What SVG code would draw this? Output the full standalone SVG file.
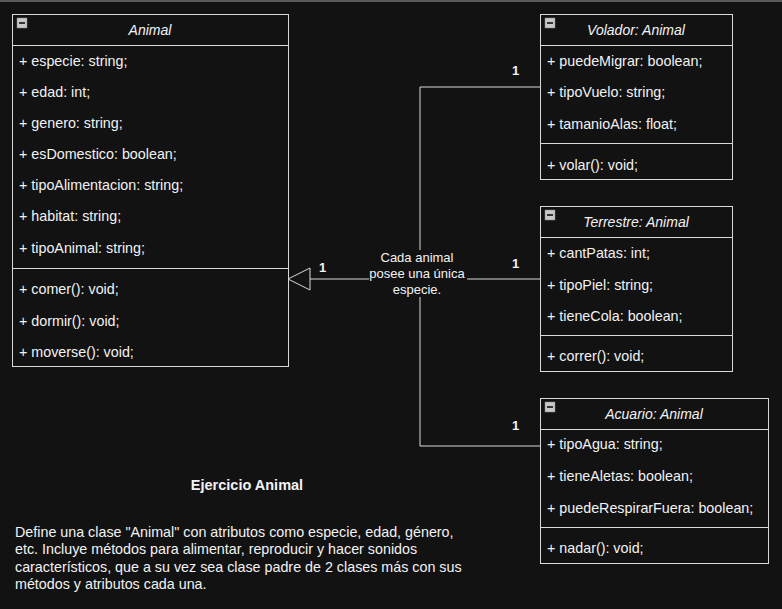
<svg xmlns="http://www.w3.org/2000/svg" width="782" height="609" viewBox="0 0 782 609">
<style>
.box{fill:#121212;stroke:#d9d9d9;stroke-width:1}
.sep{stroke:#d9d9d9;stroke-width:1}
.t{font-family:"Liberation Sans",Arial,sans-serif;font-size:14.3px;fill:#f2f2f2}
.h{font-family:"Liberation Sans",Arial,sans-serif;font-size:14px;fill:#f2f2f2;font-style:italic;text-anchor:middle}
.b{font-family:"Liberation Sans",Arial,sans-serif;font-size:13px;fill:#f2f2f2;font-weight:bold}
.c{font-family:"Liberation Sans",Arial,sans-serif;font-size:13px;fill:#f2f2f2;text-anchor:middle}
.ln{fill:none;stroke:#d9d9d9;stroke-width:1}
</style>
<defs>
<g id="minus">
<rect x="0" y="0" width="10" height="10" fill="#c8c8c8" stroke="#888" stroke-width="0.5"/>
<rect x="2" y="4" width="6" height="2" fill="#333"/>
</g>
</defs>
<rect x="0" y="0" width="782" height="609" fill="#121212"/>
<rect x="0" y="0" width="782" height="2" fill="#5a5a5a"/>

<g id="connectors">
<polyline class="ln" points="540,87 420,87 420,250"/>
<polyline class="ln" points="540,446 420,446 420,297"/>
<line class="ln" x1="540" y1="279" x2="467" y2="279"/>
<line class="ln" x1="369" y1="279" x2="310" y2="279"/>
<polygon points="288,279 310,268 310,290" fill="#121212" stroke="#d9d9d9" stroke-width="1"/>
<text class="c" x="417" y="262">Cada animal</text>
<text class="c" x="417" y="278">posee una única</text>
<text class="c" x="417" y="294">especie.</text>
<text class="b" x="512" y="75">1</text>
<text class="b" x="319" y="272">1</text>
<text class="b" x="512" y="268">1</text>
<text class="b" x="512" y="430">1</text>
</g>

<g id="animal">
<rect class="box" x="12.5" y="14.5" width="276" height="352"/>
<line class="sep" x1="12.5" y1="45.5" x2="288.5" y2="45.5"/>
<line class="sep" x1="12.5" y1="268.5" x2="288.5" y2="268.5"/>
<use href="#minus" x="17" y="18"/>
<text class="h" x="150" y="35">Animal</text>
<text class="t" x="19" y="66">+ especie: string;</text>
<text class="t" x="19" y="97">+ edad: int;</text>
<text class="t" x="19" y="128">+ genero: string;</text>
<text class="t" x="19" y="159">+ esDomestico: boolean;</text>
<text class="t" x="19" y="190">+ tipoAlimentacion: string;</text>
<text class="t" x="19" y="221">+ habitat: string;</text>
<text class="t" x="19" y="253">+ tipoAnimal: string;</text>
<text class="t" x="19" y="294">+ comer(): void;</text>
<text class="t" x="19" y="326">+ dormir(): void;</text>
<text class="t" x="19" y="357">+ moverse(): void;</text>
</g>

<g id="volador">
<rect class="box" x="540.5" y="14.5" width="192" height="165"/>
<line class="sep" x1="540.5" y1="45.5" x2="732.5" y2="45.5"/>
<line class="sep" x1="540.5" y1="143.5" x2="732.5" y2="143.5"/>
<use href="#minus" x="545" y="18"/>
<text class="h" x="636" y="35">Volador: Animal</text>
<text class="t" x="547" y="66">+ puedeMigrar: boolean;</text>
<text class="t" x="547" y="97">+ tipoVuelo: string;</text>
<text class="t" x="547" y="129">+ tamanioAlas: float;</text>
<text class="t" x="547" y="170">+ volar(): void;</text>
</g>

<g id="terrestre">
<rect class="box" x="540.5" y="206.5" width="192" height="165"/>
<line class="sep" x1="540.5" y1="237.5" x2="732.5" y2="237.5"/>
<line class="sep" x1="540.5" y1="335.5" x2="732.5" y2="335.5"/>
<use href="#minus" x="545" y="210"/>
<text class="h" x="636" y="227">Terrestre: Animal</text>
<text class="t" x="547" y="258">+ cantPatas: int;</text>
<text class="t" x="547" y="290">+ tipoPiel: string;</text>
<text class="t" x="547" y="321">+ tieneCola: boolean;</text>
<text class="t" x="547" y="361">+ correr(): void;</text>
</g>

<g id="acuario">
<rect class="box" x="540.5" y="398.5" width="228" height="165"/>
<line class="sep" x1="540.5" y1="429.5" x2="768.5" y2="429.5"/>
<line class="sep" x1="540.5" y1="527.5" x2="768.5" y2="527.5"/>
<use href="#minus" x="545" y="402"/>
<text class="h" x="654" y="419">Acuario: Animal</text>
<text class="t" x="547" y="449">+ tipoAgua: string;</text>
<text class="t" x="547" y="481">+ tieneAletas: boolean;</text>
<text class="t" x="547" y="513">+ puedeRespirarFuera: boolean;</text>
<text class="t" x="547" y="553">+ nadar(): void;</text>
</g>

<g id="notes">
<text class="b" x="247" y="490" text-anchor="middle" style="font-size:14.5px">Ejercicio Animal</text>
<text class="t" x="15" y="537">Define una clase "Animal" con atributos como especie, edad, género,</text>
<text class="t" x="15" y="554">etc. Incluye métodos para alimentar, reproducir y hacer sonidos</text>
<text class="t" x="15" y="572">característicos, que a su vez sea clase padre de 2 clases más con sus</text>
<text class="t" x="15" y="589">métodos y atributos cada una.</text>
</g>
</svg>
